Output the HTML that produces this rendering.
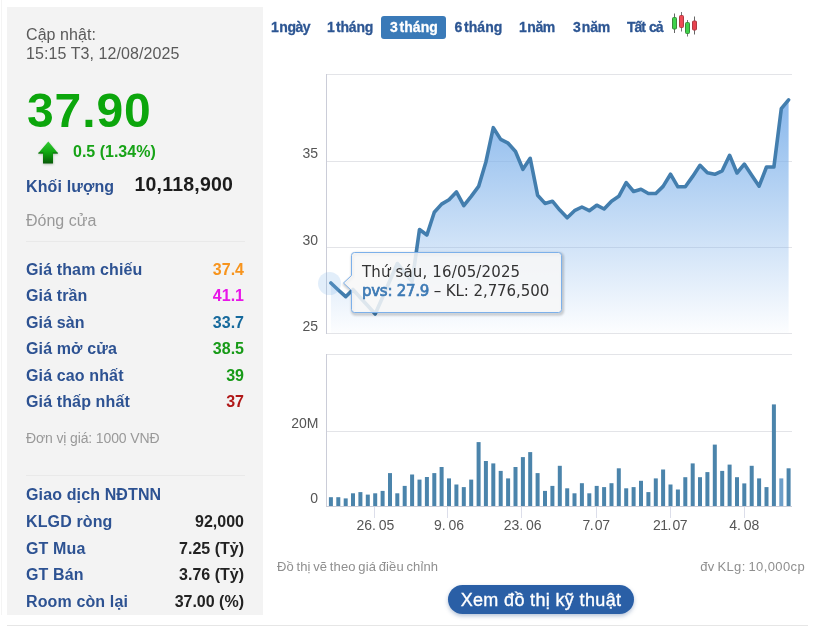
<!DOCTYPE html>
<html lang="vi">
<head>
<meta charset="utf-8">
<title>PVS</title>
<style>
*{margin:0;padding:0;box-sizing:border-box}
html,body{width:816px;height:632px;background:#fff;overflow:hidden}
body{position:relative;font-family:"Liberation Sans",Arial,sans-serif;color:#333}
.abs{position:absolute;white-space:nowrap;line-height:1}
#panel{position:absolute;left:7px;top:7px;width:256px;height:608px;background:#f3f3f3}
.lbl{font-weight:bold;font-size:16px;color:#2d5292;left:26px;letter-spacing:0.13px}
.val{font-weight:bold;font-size:16px;right:572px;text-align:right}
.sep{position:absolute;left:26px;width:219px;height:1px;background:#e9e9e9}
.gray{color:#999}
.rs{font-weight:bold;font-size:14px;color:#2d5693;letter-spacing:-0.45px;word-spacing:-2.5px;top:20px;-webkit-text-stroke:0.3px #2d5693}
.ax{font-size:14px;color:#555;right:498px;text-align:right}
.xl{font-size:14px;color:#555;top:518px;transform:translateX(-50%)}
.xl span{margin-left:2.8px}
#hr{position:absolute;left:7px;top:625px;width:801px;height:1px;background:#e6e6e6}
#btn{position:absolute;left:448px;top:585px;width:186px;height:29px;border-radius:15px;background:#2a5fa6;color:#fff;font-size:18px;text-align:center;line-height:31px;letter-spacing:0.35px;box-shadow:0 2px 4px rgba(40,80,140,.35);white-space:nowrap;-webkit-text-stroke:0.35px #fff}
#tip{position:absolute;left:351px;top:253px;width:211px;height:60px;font-family:"DejaVu Sans","Liberation Sans",sans-serif;font-size:15px;color:#333}
#tip div{position:absolute;left:11px;white-space:nowrap;line-height:1}
#tip b{color:#3d7ab5;font-weight:normal;-webkit-text-stroke:0.7px #3d7ab5;letter-spacing:-0.27px}
#ts2{letter-spacing:-0.08px}
</style>
</head>
<body>
<div id="panel"></div>
<div class="abs" style="left:1px;top:0;width:1px;height:615px;background:#f4f4f4"></div>
<div class="abs" style="left:26px;top:25px;font-size:16px;line-height:19px;color:#5a5a5a;letter-spacing:0.08px">Cập nhật:<br>15:15 T3, 12/08/2025</div>
<div class="abs" style="left:27px;top:87px;font-size:48px;font-weight:bold;color:#0ca60c;letter-spacing:0.9px">37.90</div>
<svg class="abs" style="left:35px;top:138px" width="28" height="30" viewBox="0 0 28 30">
<defs><linearGradient id="ag" x1="0" y1="0" x2="0" y2="1"><stop offset="0" stop-color="#35cc35"/><stop offset="0.5" stop-color="#0fa60f"/><stop offset="1" stop-color="#075807"/></linearGradient>
<filter id="as" x="-30%" y="-30%" width="160%" height="160%"><feGaussianBlur stdDeviation="1.1"/></filter></defs>
<path d="M13.3 3.5 L23.2 15.5 L18 15.5 L18 25.6 L8 25.6 L8 15.5 L3 15.5 Z" fill="#6f8f6f" opacity=".5" filter="url(#as)" transform="translate(0.3,1)"/>
<path d="M13.3 3.5 L23.2 15.5 L18 15.5 L18 25.6 L8 25.6 L8 15.5 L3 15.5 Z" fill="url(#ag)"/>
<path d="M3.4 15 H8.3 M17.7 15 H22.8" stroke="#0c4f0c" stroke-width="1.2" opacity=".75"/>
</svg>
<div class="abs" style="left:73px;top:144px;font-size:16px;font-weight:bold;color:#17a317">0.5 (1.34%)</div>
<div class="abs lbl" style="top:179px">Khối lượng</div>
<div class="abs" style="left:134.5px;top:175px;font-size:19.5px;font-weight:bold;color:#1c1c1c;letter-spacing:0.2px">10,118,900</div>
<div class="abs gray" style="left:26px;top:213px;font-size:16px">Đóng cửa</div>
<div class="sep" style="top:241px"></div>

<div class="abs lbl" style="top:262px">Giá tham chiếu</div><div class="abs val" style="top:262px;color:#f7941d">37.4</div>
<div class="abs lbl" style="top:288px">Giá trần</div><div class="abs val" style="top:288px;color:#e815e8">41.1</div>
<div class="abs lbl" style="top:315px">Giá sàn</div><div class="abs val" style="top:315px;color:#15699c">33.7</div>
<div class="abs lbl" style="top:341px">Giá mở cửa</div><div class="abs val" style="top:341px;color:#179a17">38.5</div>
<div class="abs lbl" style="top:368px">Giá cao nhất</div><div class="abs val" style="top:368px;color:#179a17">39</div>
<div class="abs lbl" style="top:394px">Giá thấp nhất</div><div class="abs val" style="top:394px;color:#b01818">37</div>
<div class="abs gray" style="left:26px;top:431px;font-size:14px;letter-spacing:-0.13px">Đơn vị giá: 1000 VNĐ</div>
<div class="sep" style="top:475px"></div>
<div class="abs lbl" style="top:487px">Giao dịch NĐTNN</div>
<div class="abs lbl" style="top:514px">KLGD ròng</div><div class="abs val" style="top:514px;color:#222">92,000</div>
<div class="abs lbl" style="top:541px">GT Mua</div><div class="abs val" style="top:541px;color:#222">7.25 (Tỷ)</div>
<div class="abs lbl" style="top:567px">GT Bán</div><div class="abs val" style="top:567px;color:#222">3.76 (Tỷ)</div>
<div class="abs lbl" style="top:594px">Room còn lại</div><div class="abs val" style="top:594px;color:#222">37.00 (%)</div>

<div class="abs" style="left:381px;top:16px;width:65px;height:23px;border-radius:3px;background:#3a7ab8"></div>
<div class="abs rs" style="left:271px">1 ngày</div>
<div class="abs rs" style="left:327px;letter-spacing:-0.15px">1 tháng</div>
<div class="abs rs" style="left:390px;color:#fff;-webkit-text-stroke-color:#fff;letter-spacing:0.1px">3 tháng</div>
<div class="abs rs" style="left:454.5px;letter-spacing:0.1px">6 tháng</div>
<div class="abs rs" style="left:519px">1 năm</div>
<div class="abs rs" style="left:573px;letter-spacing:-0.2px">3 năm</div>
<div class="abs rs" style="left:627px;word-spacing:1px;letter-spacing:-1px">Tất cả</div>

<svg class="abs" style="left:0;top:0" width="816" height="632" viewBox="0 0 816 632">
<defs>
<linearGradient id="fg" gradientUnits="userSpaceOnUse" x1="0" y1="74" x2="0" y2="333"><stop offset="0" stop-color="#7cb0ea" stop-opacity="1"/><stop offset="1" stop-color="#7cb0ea" stop-opacity="0.02"/></linearGradient>
<filter id="ts" x="-10%" y="-20%" width="120%" height="150%"><feGaussianBlur stdDeviation="1.2"/></filter>
</defs>
<!-- candle icon -->
<g stroke-width="1">
<line x1="674.5" y1="13.5" x2="674.5" y2="33" stroke="#666"/><rect x="672.5" y="17.5" rx="1" width="4" height="11.5" fill="#3fd24a" stroke="#3a8a3a"/>
<line x1="681.5" y1="12" x2="681.5" y2="31.5" stroke="#777"/><rect x="679.5" y="15.5" rx="1" width="4" height="12" fill="#ee4a55" stroke="#b03a44"/>
<line x1="687.5" y1="20" x2="687.5" y2="36.5" stroke="#777"/><rect x="685.5" y="22.5" rx="1" width="4" height="11" fill="#3fd24a" stroke="#3a8a3a"/>
<line x1="694.5" y1="16.5" x2="694.5" y2="34.5" stroke="#666"/><rect x="692.5" y="21" rx="1" width="4" height="9" fill="#e8424f" stroke="#b03a44"/>
</g>
<!-- grid -->
<g stroke="#e3e4e8" stroke-width="1" shape-rendering="crispEdges">
<line x1="327" y1="74.5" x2="792" y2="74.5"/><line x1="327" y1="161.5" x2="792" y2="161.5"/><line x1="327" y1="247.5" x2="792" y2="247.5"/><line x1="327" y1="333.5" x2="792" y2="333.5"/>
<line x1="327" y1="354.5" x2="792" y2="354.5"/><line x1="327" y1="431.5" x2="792" y2="431.5"/>
</g>
<g stroke="#cbcdd8" stroke-width="1" shape-rendering="crispEdges">
<line x1="326.5" y1="74" x2="326.5" y2="334"/><line x1="326.5" y1="354" x2="326.5" y2="507"/>
<line x1="327" y1="506.5" x2="792" y2="506.5"/>
<line x1="374.5" y1="507" x2="374.5" y2="518" stroke="#dcdeea"/><line x1="447.5" y1="507" x2="447.5" y2="518" stroke="#dcdeea"/><line x1="521.5" y1="507" x2="521.5" y2="518" stroke="#dcdeea"/><line x1="596.5" y1="507" x2="596.5" y2="518" stroke="#dcdeea"/><line x1="670.5" y1="507" x2="670.5" y2="518" stroke="#dcdeea"/><line x1="744.5" y1="507" x2="744.5" y2="518" stroke="#dcdeea"/>
</g>
<path d="M330.9 283.0 L338.3 290.0 L345.7 296.7 L353.0 289.5 L360.4 297.7 L367.8 305.8 L375.2 314.0 L382.6 297.2 L390.0 280.3 L397.3 263.5 L404.7 272.3 L412.1 281.5 L419.5 229.5 L426.9 235.0 L434.3 212.3 L441.6 204.1 L449.0 199.7 L456.4 191.9 L463.8 205.6 L471.2 196.3 L478.6 186.4 L485.9 162.0 L493.3 127.7 L500.7 139.4 L508.1 143.2 L515.5 151.5 L522.9 169.3 L530.2 158.3 L537.6 195.2 L545.0 203.4 L552.4 201.2 L559.8 210.1 L567.2 217.8 L574.5 210.7 L581.9 207.0 L589.3 210.7 L596.7 205.2 L604.1 209.0 L611.5 201.2 L618.8 196.3 L626.2 182.6 L633.6 191.5 L641.0 189.3 L648.4 193.5 L655.8 193.5 L663.1 186.4 L670.5 174.2 L677.9 186.8 L685.3 186.8 L692.7 176.4 L700.0 165.3 L707.4 172.8 L714.8 174.3 L722.2 170.8 L729.6 155.3 L737.0 173.0 L744.3 164.1 L751.7 175.2 L759.1 186.2 L766.5 167.0 L773.9 167.0 L781.3 108.7 L788.6 99.9 L788.6 333 L330.9 333 Z" fill="url(#fg)"/>
<path d="M330.9 283.0 L338.3 290.0 L345.7 296.7 L353.0 289.5 L360.4 297.7 L367.8 305.8 L375.2 314.0 L382.6 297.2 L390.0 280.3 L397.3 263.5 L404.7 272.3 L412.1 281.5 L419.5 229.5 L426.9 235.0 L434.3 212.3 L441.6 204.1 L449.0 199.7 L456.4 191.9 L463.8 205.6 L471.2 196.3 L478.6 186.4 L485.9 162.0 L493.3 127.7 L500.7 139.4 L508.1 143.2 L515.5 151.5 L522.9 169.3 L530.2 158.3 L537.6 195.2 L545.0 203.4 L552.4 201.2 L559.8 210.1 L567.2 217.8 L574.5 210.7 L581.9 207.0 L589.3 210.7 L596.7 205.2 L604.1 209.0 L611.5 201.2 L618.8 196.3 L626.2 182.6 L633.6 191.5 L641.0 189.3 L648.4 193.5 L655.8 193.5 L663.1 186.4 L670.5 174.2 L677.9 186.8 L685.3 186.8 L692.7 176.4 L700.0 165.3 L707.4 172.8 L714.8 174.3 L722.2 170.8 L729.6 155.3 L737.0 173.0 L744.3 164.1 L751.7 175.2 L759.1 186.2 L766.5 167.0 L773.9 167.0 L781.3 108.7 L788.6 99.9" fill="none" stroke="#437eae" stroke-width="3.6" stroke-linejoin="round" stroke-linecap="round"/>
<g fill="#4b84ab"><rect x="328.9" y="497.2" width="4" height="8.8"/><rect x="336.3" y="497.2" width="4" height="8.8"/><rect x="343.7" y="498.4" width="4" height="7.6"/><rect x="351.0" y="493.3" width="4" height="12.7"/><rect x="358.4" y="492.1" width="4" height="13.9"/><rect x="365.8" y="494.6" width="4" height="11.4"/><rect x="373.2" y="493.3" width="4" height="12.7"/><rect x="380.6" y="490.9" width="4" height="15.1"/><rect x="388.0" y="473.1" width="4" height="32.9"/><rect x="395.3" y="493.3" width="4" height="12.7"/><rect x="402.7" y="485.9" width="4" height="20.1"/><rect x="410.1" y="474.5" width="4" height="31.5"/><rect x="417.5" y="479.6" width="4" height="26.4"/><rect x="424.9" y="477.0" width="4" height="29.0"/><rect x="432.3" y="473.1" width="4" height="32.9"/><rect x="439.6" y="467.0" width="4" height="39.0"/><rect x="447.0" y="478.4" width="4" height="27.6"/><rect x="454.4" y="484.5" width="4" height="21.5"/><rect x="461.8" y="487.1" width="4" height="18.9"/><rect x="469.2" y="479.6" width="4" height="26.4"/><rect x="476.6" y="442.1" width="4" height="63.9"/><rect x="483.9" y="461.0" width="4" height="45.0"/><rect x="491.3" y="463.4" width="4" height="42.6"/><rect x="498.7" y="470.9" width="4" height="35.1"/><rect x="506.1" y="478.4" width="4" height="27.6"/><rect x="513.5" y="467.0" width="4" height="39.0"/><rect x="520.9" y="457.1" width="4" height="48.9"/><rect x="528.2" y="452.1" width="4" height="53.9"/><rect x="535.6" y="473.1" width="4" height="32.9"/><rect x="543.0" y="490.9" width="4" height="15.1"/><rect x="550.4" y="485.9" width="4" height="20.1"/><rect x="557.8" y="465.8" width="4" height="40.2"/><rect x="565.2" y="488.3" width="4" height="17.7"/><rect x="572.5" y="493.3" width="4" height="12.7"/><rect x="579.9" y="483.2" width="4" height="22.8"/><rect x="587.3" y="493.3" width="4" height="12.7"/><rect x="594.7" y="485.9" width="4" height="20.1"/><rect x="602.1" y="487.1" width="4" height="18.9"/><rect x="609.5" y="483.2" width="4" height="22.8"/><rect x="616.8" y="468.3" width="4" height="37.7"/><rect x="624.2" y="488.3" width="4" height="17.7"/><rect x="631.6" y="487.1" width="4" height="18.9"/><rect x="639.0" y="480.8" width="4" height="25.2"/><rect x="646.4" y="492.1" width="4" height="13.9"/><rect x="653.8" y="478.4" width="4" height="27.6"/><rect x="661.1" y="469.5" width="4" height="36.5"/><rect x="668.5" y="484.5" width="4" height="21.5"/><rect x="675.9" y="489.5" width="4" height="16.5"/><rect x="683.3" y="477.2" width="4" height="28.8"/><rect x="690.7" y="463.4" width="4" height="42.6"/><rect x="698.0" y="477.2" width="4" height="28.8"/><rect x="705.4" y="472.1" width="4" height="33.9"/><rect x="712.8" y="444.6" width="4" height="61.4"/><rect x="720.2" y="470.9" width="4" height="35.1"/><rect x="727.6" y="464.6" width="4" height="41.4"/><rect x="735.0" y="477.2" width="4" height="28.8"/><rect x="742.3" y="483.4" width="4" height="22.6"/><rect x="749.7" y="465.8" width="4" height="40.2"/><rect x="757.1" y="478.4" width="4" height="27.6"/><rect x="764.5" y="487.1" width="4" height="18.9"/><rect x="771.9" y="404.4" width="4" height="101.6"/><rect x="779.3" y="478.4" width="4" height="27.6" fill="#6d9ec8"/><rect x="786.6" y="468.3" width="4" height="37.7"/></g>
<circle cx="329.5" cy="283.5" r="11.5" fill="#7cb0ea" opacity=".22"/>
<!-- tooltip -->
<path d="M354.5 252.5 H558.5 a3 3 0 0 1 3 3 V309.5 a3 3 0 0 1 -3 3 H354.5 a3 3 0 0 1 -3 -3 V290.5 L343.5 283 L351.5 275.5 V255.5 a3 3 0 0 1 3 -3 Z" fill="none" stroke="#000" stroke-width="3" opacity=".2" filter="url(#ts)" transform="translate(1,1.5)"/>
<path d="M354.5 252.5 H558.5 a3 3 0 0 1 3 3 V309.5 a3 3 0 0 1 -3 3 H354.5 a3 3 0 0 1 -3 -3 V290.5 L343.5 283 L351.5 275.5 V255.5 a3 3 0 0 1 3 -3 Z" fill="#f7f7f7" fill-opacity=".86" stroke="#7cb0ea" stroke-width="1"/>
</svg>

<div class="abs ax" style="top:146px">35</div>
<div class="abs ax" style="top:233px">30</div>
<div class="abs ax" style="top:319px">25</div>
<div class="abs ax" style="top:416px;right:497.5px">20M</div>
<div class="abs ax" style="top:491px">0</div>
<div class="abs xl" style="left:375.3px">26.<span>05</span></div>
<div class="abs xl" style="left:449px">9.<span>06</span></div>
<div class="abs xl" style="left:522.7px">23.<span>06</span></div>
<div class="abs xl" style="left:596px;letter-spacing:-0.5px">7.<span style="margin-left:1.6px">07</span></div>
<div class="abs xl" style="left:670px;letter-spacing:-0.5px">21.<span style="margin-left:1.6px">07</span></div>
<div class="abs xl" style="left:744.2px">4.<span>08</span></div>

<div id="tip"><div style="top:12px;letter-spacing:0.15px">Thứ sáu, 16/05/2025</div><div style="top:30.5px"><b id="tb">pvs: 27.9</b><span id="ts2"> – KL: 2,776,500</span></div></div>

<div class="abs gray" style="left:277px;top:560px;font-size:13px;letter-spacing:0.15px;word-spacing:-1.2px;color:#8f8f8f">Đồ thị vẽ theo giá điều chỉnh</div>
<div class="abs gray" style="right:11px;top:560px;font-size:13px;letter-spacing:0.38px;word-spacing:-1.2px;color:#8f8f8f">đv KLg: 10,000cp</div>
<div id="btn">Xem đồ thị kỹ thuật</div>
<div id="hr"></div>
</body>
</html>
